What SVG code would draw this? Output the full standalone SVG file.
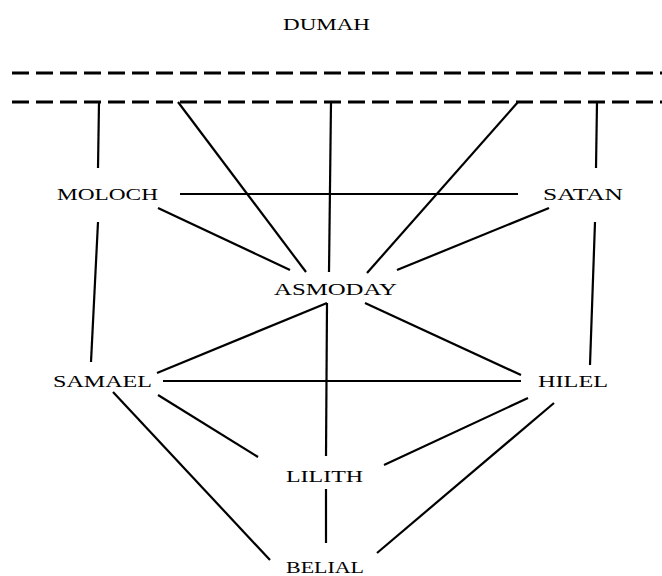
<svg xmlns="http://www.w3.org/2000/svg" width="662" height="576" viewBox="0 0 662 576">
<style>
.lbl{font-family:"Liberation Serif","Times New Roman",serif;font-size:16px;fill:#000;}
.ln{stroke:#000;stroke-width:2.2;fill:none;stroke-linecap:butt;}
.dash{stroke:#000;stroke-width:3;stroke-dasharray:17 7;fill:none;}
</style>
<rect width="662" height="576" fill="#fff"/>
<g id="connectors">
<line class="dash" x1="12" y1="73" x2="662" y2="73"/>
<line class="dash" x1="12" y1="102" x2="662" y2="102"/>
<line class="ln" x1="99" y1="102" x2="98" y2="168"/>
<line class="ln" x1="98" y1="222" x2="91" y2="362"/>
<line class="ln" x1="597" y1="102" x2="596" y2="168"/>
<line class="ln" x1="595" y1="222" x2="590" y2="365"/>
<line class="ln" x1="178" y1="102" x2="306" y2="272"/>
<line class="ln" x1="331" y1="102" x2="329" y2="272"/>
<line class="ln" x1="518" y1="102" x2="367" y2="273"/>
<line class="ln" x1="180" y1="194" x2="518" y2="194"/>
<line class="ln" x1="158" y1="208" x2="290" y2="270"/>
<line class="ln" x1="549" y1="208" x2="397" y2="270"/>
<line class="ln" x1="327" y1="303" x2="157" y2="373"/>
<line class="ln" x1="365" y1="303" x2="521" y2="375"/>
<line class="ln" x1="327" y1="303" x2="326" y2="456"/>
<line class="ln" x1="326" y1="489" x2="326" y2="543"/>
<line class="ln" x1="163" y1="381" x2="521" y2="381"/>
<line class="ln" x1="158" y1="395" x2="258" y2="457"/>
<line class="ln" x1="528" y1="398" x2="384" y2="465"/>
<line class="ln" x1="113" y1="392" x2="270" y2="560"/>
<line class="ln" x1="554" y1="403" x2="377" y2="553"/>
</g>
<g id="dumah"><text class="lbl" x="283" y="30" textLength="87" lengthAdjust="spacingAndGlyphs">DUMAH</text></g>
<g id="moloch"><text class="lbl" x="57" y="200" textLength="101" lengthAdjust="spacingAndGlyphs">MOLOCH</text></g>
<g id="satan"><text class="lbl" x="543" y="200" textLength="80" lengthAdjust="spacingAndGlyphs">SATAN</text></g>
<g id="asmoday"><text class="lbl" x="274" y="295" textLength="123" lengthAdjust="spacingAndGlyphs">ASMODAY</text></g>
<g id="samael"><text class="lbl" x="53" y="387" textLength="99" lengthAdjust="spacingAndGlyphs">SAMAEL</text></g>
<g id="hilel"><text class="lbl" x="538" y="387" textLength="70" lengthAdjust="spacingAndGlyphs">HILEL</text></g>
<g id="lilith"><text class="lbl" x="286" y="482" textLength="77" lengthAdjust="spacingAndGlyphs">LILITH</text></g>
<g id="belial"><text class="lbl" x="286" y="573" textLength="78" lengthAdjust="spacingAndGlyphs">BELIAL</text></g>
</svg>
